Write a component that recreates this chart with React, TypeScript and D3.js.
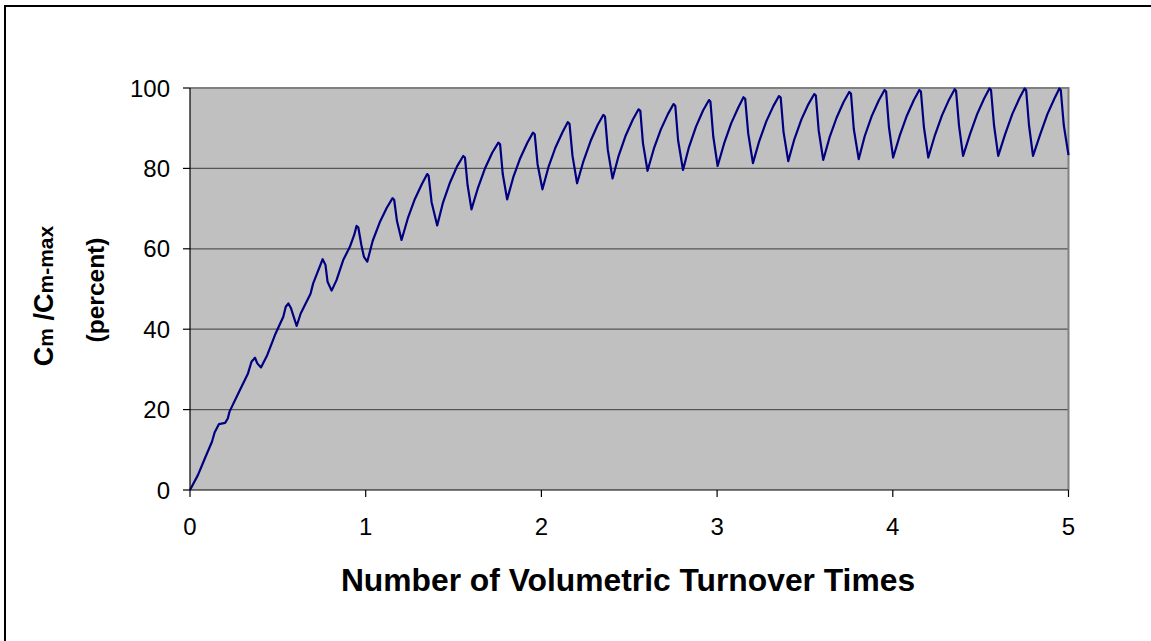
import * as d3 from "d3";

const xTicks = [0, 1, 2, 3, 4, 5];
const yTicks = [0, 20, 40, 60, 80, 100];

// turnover times (x) and Cm/Cm-max percent (y)
const times = [
  0, 0.045, 0.085, 0.125, 0.14, 0.165, 0.2, 0.215, 0.225, 0.28, 0.33, 0.35, 0.37, 0.383, 0.404,
  0.44, 0.484, 0.531, 0.545, 0.56, 0.575, 0.607,
  0.63, 0.686, 0.701, 0.72, 0.755, 0.771, 0.783, 0.806,
  0.834, 0.872, 0.91, 0.935, 0.948, 0.958, 0.975, 0.99, 1.009,
  1.04, 1.08, 1.12, 1.153, 1.162, 1.178, 1.204,
  1.24, 1.28, 1.32, 1.35, 1.358, 1.375, 1.407,
  1.44, 1.48, 1.52, 1.555, 1.565, 1.58, 1.602,
  1.64, 1.68, 1.72, 1.755, 1.765, 1.78, 1.805,
  1.84, 1.88, 1.92, 1.952, 1.962, 1.978, 2.006,
  2.04, 2.08, 2.12, 2.15, 2.16, 2.177, 2.203,
  2.24, 2.28, 2.32, 2.352, 2.362, 2.378, 2.405,
  2.44, 2.48, 2.52, 2.553, 2.563, 2.578, 2.604,
  2.64, 2.68, 2.72, 2.752, 2.762, 2.778, 2.806,
  2.84, 2.88, 2.92, 2.954, 2.962, 2.978, 3.003,
  3.04, 3.08, 3.12, 3.15, 3.16, 3.177, 3.204,
  3.24, 3.28, 3.32, 3.352, 3.362, 3.378, 3.405,
  3.44, 3.48, 3.52, 3.553, 3.562, 3.578, 3.604,
  3.64, 3.68, 3.72, 3.752, 3.762, 3.778, 3.806,
  3.84, 3.88, 3.92, 3.953, 3.962, 3.978, 4.002,
  4.04, 4.08, 4.12, 4.151, 4.16, 4.177, 4.202,
  4.24, 4.28, 4.32, 4.352, 4.36, 4.377, 4.4,
  4.44, 4.48, 4.52, 4.55, 4.559, 4.576, 4.6,
  4.64, 4.68, 4.72, 4.75, 4.759, 4.775, 4.798,
  4.84, 4.88, 4.92, 4.948, 4.956, 4.973, 5.0,
];

const percent = [
  0, 3.7, 7.9, 12.0, 14.3, 16.4, 16.7, 17.8, 19.5, 24.5, 29.0, 31.9, 32.9, 31.5, 30.5,
  33.6, 38.6, 43.1, 45.6, 46.4, 45.2, 40.8,
  43.9, 48.8, 51.4, 53.5, 57.4, 56.0, 51.8, 49.6,
  52.2, 57.2, 60.5, 63.5, 65.7, 65.3, 61.0, 58.0, 56.8,
  62.0, 66.6, 70.2, 72.6, 72.2, 66.9, 62.2,
  67.6, 72.4, 76.1, 78.6, 78.2, 71.6, 65.8,
  71.5, 76.5, 80.5, 83.1, 82.7, 75.8, 69.8,
  75.3, 80.1, 83.9, 86.4, 86.0, 78.6, 72.3,
  77.8, 82.6, 86.4, 88.9, 88.5, 81.1, 74.8,
  80.3, 85.2, 89.0, 91.5, 91.1, 83.1, 76.3,
  81.9, 86.8, 90.8, 93.3, 92.9, 84.6, 77.5,
  83.2, 88.2, 92.1, 94.7, 94.3, 86.3, 79.4,
  84.9, 89.7, 93.5, 96.0, 95.6, 87.0, 79.6,
  85.3, 90.4, 94.4, 97.0, 96.6, 88.0, 80.6,
  86.2, 91.2, 95.1, 97.7, 97.3, 88.7, 81.3,
  86.8, 91.7, 95.5, 98.0, 97.6, 89.1, 81.8,
  87.3, 92.2, 96.0, 98.5, 98.1, 89.5, 82.1,
  87.7, 92.6, 96.5, 99.0, 98.6, 89.8, 82.3,
  88.0, 93.0, 96.9, 99.5, 99.1, 90.3, 82.7,
  88.2, 93.1, 97.0, 99.5, 99.1, 90.3, 82.7,
  88.3, 93.2, 97.1, 99.7, 99.3, 90.6, 83.1,
  88.6, 93.5, 97.4, 99.9, 99.5, 90.8, 83.1,
  88.6, 93.5, 97.4, 99.9, 99.5, 90.8, 83.1,
  88.6, 93.5, 97.4, 99.9, 99.5, 90.8, 83.3,
];

const W = 1151;
const H = 641;
const left = 190;
const right = 1068.5;
const top = 88;
const bottom = 490;
const font = "'Liberation Sans', Arial, sans-serif";

export default function App() {
  const x = d3.scaleLinear().domain([0, 5]).range([left, right]);
  const y = d3.scaleLinear().domain([0, 100]).range([bottom, top]);

  const points: [number, number][] = times.map((t, i) => [t, percent[i]]);
  const line = d3
    .line<[number, number]>()
    .x((d) => x(d[0]))
    .y((d) => y(d[1]))
    .curve(d3.curveLinear);

  return (
    <svg
      width={W}
      height={H}
      style={{ position: "absolute", left: 0, top: 0, background: "#fff" }}
      fontFamily={font}
    >
      {/* outer chart frame */}
      <rect x={5} y={6} width={1200} height={700} fill="none" stroke="#000" strokeWidth={2} />

      {/* plot area */}
      <rect x={left} y={top} width={right - left} height={bottom - top} fill="#c0c0c0" />
      {yTicks.slice(1, -1).map((v) => (
        <line key={v} x1={left} x2={right} y1={y(v)} y2={y(v)} stroke="#555" strokeWidth={1.2} />
      ))}
      <path
        d={`M${left},${top}H${right}V${bottom}`}
        fill="none"
        stroke="#808080"
        strokeWidth={2}
      />

      <path
        d={line(points) ?? ""}
        fill="none"
        stroke="#000080"
        strokeWidth={2.2}
        strokeLinejoin="round"
      />

      {/* axes */}
      <line x1={left} x2={left} y1={top} y2={bottom} stroke="#000" strokeWidth={1.2} />
      <line x1={left} x2={right} y1={bottom} y2={bottom} stroke="#000" strokeWidth={1.2} />

      {yTicks.map((v) => (
        <g key={v}>
          <line x1={left - 7} x2={left} y1={y(v)} y2={y(v)} stroke="#000" strokeWidth={1.2} />
          <text x={170} y={y(v)} dy="0.36em" textAnchor="end" fontSize={24}>
            {v}
          </text>
        </g>
      ))}
      {xTicks.map((v) => (
        <g key={v}>
          <line x1={x(v)} x2={x(v)} y1={bottom} y2={bottom + 7} stroke="#000" strokeWidth={1.2} />
          <text x={x(v)} y={535} textAnchor="middle" fontSize={24}>
            {v}
          </text>
        </g>
      ))}

      <text x={628} y={591} textAnchor="middle" fontSize={31.8} fontWeight="bold">
        Number of Volumetric Turnover Times
      </text>

      <g transform="translate(53,296) rotate(-90)" fontWeight="bold">
        <text textAnchor="middle" fontSize={27}>
          C<tspan fontSize={21}>m</tspan> /C<tspan fontSize={21}>m-max</tspan>
        </text>
      </g>
      <g transform="translate(104,290) rotate(-90)" fontWeight="bold">
        <text textAnchor="middle" fontSize={24.5}>
          (percent)
        </text>
      </g>
    </svg>
  );
}
